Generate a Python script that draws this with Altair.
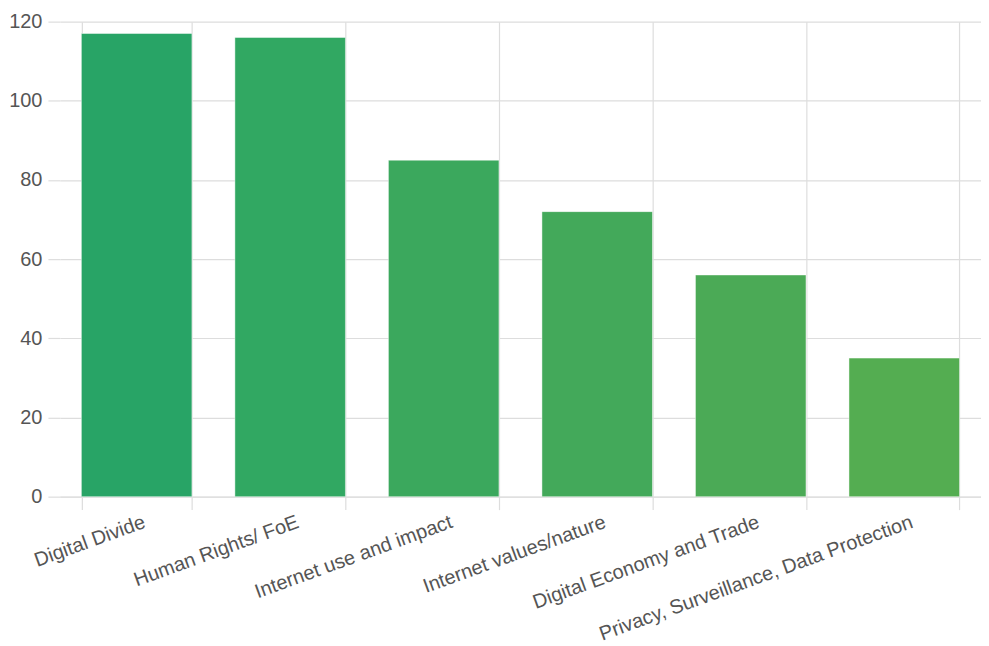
import altair as alt
import pandas as pd

categories = [
    "Digital Divide",
    "Human Rights/ FoE",
    "Internet use and impact",
    "Internet values/nature",
    "Digital Economy and Trade",
    "Privacy, Surveillance, Data Protection",
]
values = [117, 116, 85, 72, 56, 35]
colors = ["#28A466", "#31A862", "#3BA85D", "#43A95A", "#4BAA56", "#54AD51"]

df = pd.DataFrame({"topic": categories, "count": values, "color": colors})

chart = (
    alt.Chart(df)
    .mark_bar(stroke="white", strokeWidth=1, strokeOpacity=0.45)
    .encode(
        x=alt.X(
            "topic:N",
            sort=categories,
            title=None,
            scale=alt.Scale(paddingInner=0.28, paddingOuter=0.14),
            axis=alt.Axis(
                labelAngle=-20,
                labelFont="Liberation Sans",
                labelFontSize=20,
                labelColor="#555555",
                labelPadding=2,
                labelOffset=4,
                labelLimit=0,
                tickSize=13,
                tickColor="#dddddd",
                domainColor="#dddddd",
                gridColor="#dddddd",
                grid=True,
                tickBand="extent",
                gridWidth=1.2,
                tickWidth=1.2,
            ),
        ),
        y=alt.Y(
            "count:Q",
            title=None,
            scale=alt.Scale(domain=[0, 120]),
            axis=alt.Axis(
                values=[0, 20, 40, 60, 80, 100, 120],
                labelFont="Liberation Sans",
                labelFontSize=20,
                labelColor="#555555",
                labelPadding=6,
                tickSize=12,
                tickColor="#dddddd",
                domainColor="#dddddd",
                gridColor="#dddddd",
                gridWidth=1.2,
                tickWidth=1.2,
                domain=False,
            ),
        ),
        color=alt.Color("color:N", scale=None, legend=None),
    )
    .properties(
        width=975,
        height=637,
        autosize=alt.AutoSizeParams(type="fit", contains="padding"),
        padding={"left": 0, "top": 3, "right": 0, "bottom": 0},
    )
    .configure_view(stroke=None)
)

chart.save("out.html", embed_options={"renderer": "svg", "actions": False})
